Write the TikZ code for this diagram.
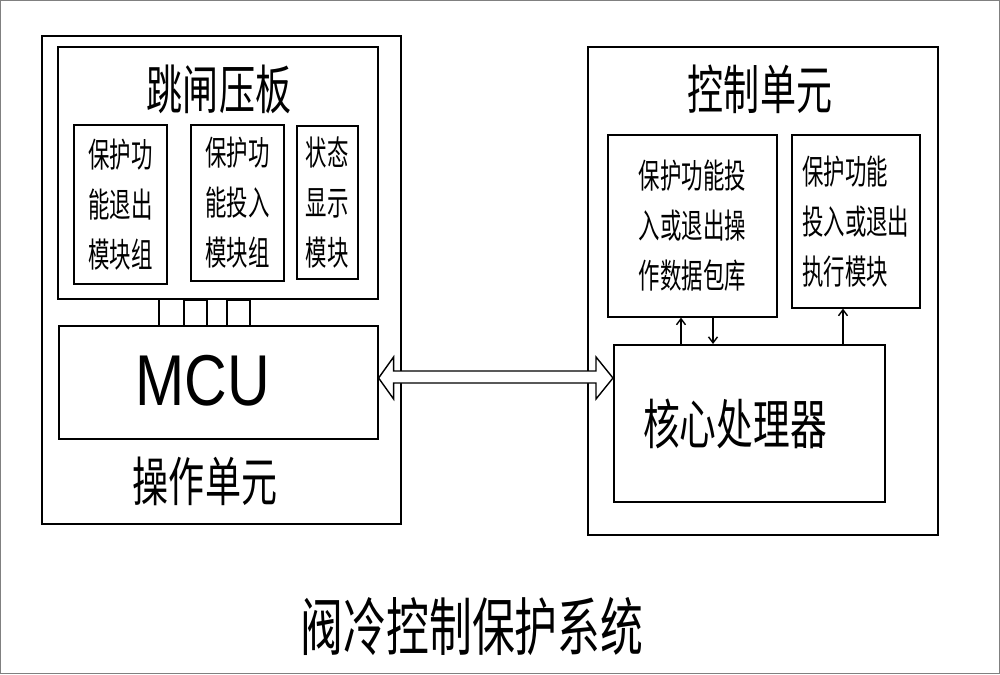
\documentclass[tikz,border=0pt]{standalone}
\usepackage{fontspec}
\newfontfamily\cjk[FakeStretch=0.68]{Noto Sans CJK SC}
\newfontfamily\cjks[FakeStretch=0.63]{Noto Sans CJK SC}
\setsansfont{Liberation Sans}
\usetikzlibrary{arrows.meta,calc}
\begin{document}
\begin{tikzpicture}[x=1pt,y=-1pt,
  box/.style={draw=black,line width=1.6pt,rectangle,inner sep=0pt,anchor=north west},
  big/.style={font=\cjk\fontsize{53}{53}\selectfont,inner sep=0pt},
  small/.style={font=\cjks\fontsize{34}{50}\selectfont},
  conn/.style={line width=1.4pt,-{Straight Barb[length=6pt,width=9pt,line width=1.4pt]}}]
\useasboundingbox (0,0) rectangle (1000,674);
\draw[gray,line width=0.8pt] (0.5,0.5) rectangle (999.5,673.5);
% left unit
\node[box,minimum width=359pt,minimum height=488pt] (opu) at (41,35) {};
\node[box,minimum width=320pt,minimum height=252pt] (trip) at (57,46) {};
\node[big] (tripl) at (219,89) {跳闸压板};
\node[box,small,minimum width=93pt,minimum height=159pt,align=center] (ma) at (73,124) {保护功\\能退出\\模块组};
\node[box,small,minimum width=93pt,minimum height=156pt,align=center] (mb) at (190,124) {保护功\\能投入\\模块组};
\node[box,small,minimum width=61pt,minimum height=153pt,align=center] (mc) at (296,125) {状态\\显示\\模块};
\node[box,minimum width=319pt,minimum height=113pt] (mcu) at (58,325) {};
\node[font=\sffamily,inner sep=0pt] (mcul) at (203,381) {\scalebox{0.82}[1]{\fontsize{72}{72}\selectfont MCU}};
\node[big] (opl) at (205,481) {操作单元};
% bus lines
\draw[line width=1.4pt] (159,298) -- (159,325);
\draw[line width=1.4pt] (184,325) -- (184,300) -- (207,300) -- (207,325);
\draw[line width=1.4pt] (227,325) -- (227,300) -- (250,300) -- (250,325);
% right unit
\node[box,minimum width=350pt,minimum height=488pt] (ctl) at (587,46) {};
\node[big] (ctll) at (760,89) {控制单元};
\node[box,small,minimum width=169pt,minimum height=182pt,align=left] (db) at (607,134) {保护功能投\\入或退出操\\作数据包库};
\node[box,small,minimum width=128pt,minimum height=173pt,align=left] (ex) at (791,134) {保护功能\\投入或退出\\执行模块\phantom{一}};
\node[box,minimum width=271pt,minimum height=157pt] (core) at (613,344) {};
\node[font=\cjk\fontsize{54}{54}\selectfont,inner sep=0pt] (corel) at (735,424) {核心处理器};
% arrows
\draw[conn] (core.north -| 681,0) -- (db.south -| 681,0);
\draw[conn] (db.south -| 713,0) -- (core.north -| 713,0);
\draw[conn] (core.north -| 843,0) -- (ex.south -| 843,0);
% double arrow
\coordinate (L) at (mcu.east |- 0,378);
\coordinate (R) at (core.west |- 0,378);
\draw[line width=1.4pt,fill=white,line join=miter]
  (L) -- ($(L)+(15,-21)$) -- ($(L)+(15,-7)$) -- ($(R)+(-17,-7)$) -- ($(R)+(-17,-21)$) -- (R)
  -- ($(R)+(-17,21)$) -- ($(R)+(-17,5)$) -- ($(L)+(15,5)$) -- ($(L)+(15,21)$) -- cycle;
% title
\node[font=\cjk\fontsize{63}{63}\selectfont,inner sep=0pt] (title) at (472,626) {阀冷控制保护系统};
\end{tikzpicture}
\end{document}
